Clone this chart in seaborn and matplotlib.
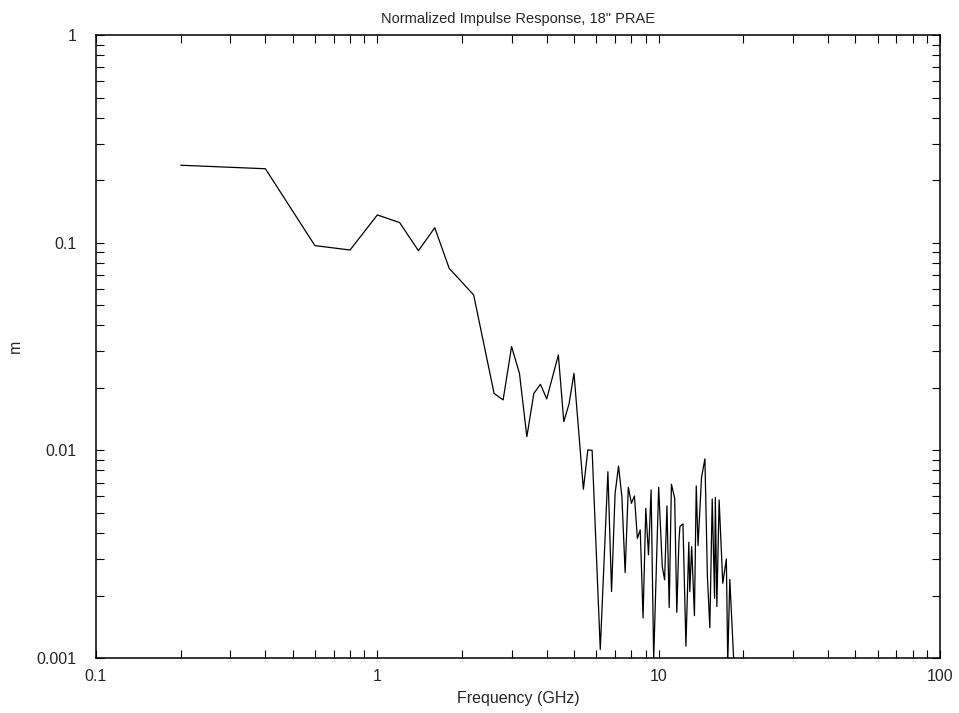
import matplotlib
matplotlib.use("Agg")
import matplotlib.pyplot as plt
import matplotlib.ticker as mticker
import seaborn as sns
import pandas as pd
import numpy as np

freq_ghz = [0.2, 0.4, 0.6, 0.8, 1.0, 1.2, 1.4, 1.6, 1.8, 2.2,
            2.6, 2.8, 3.0, 3.2, 3.4, 3.6, 3.8, 4.0, 4.4, 4.6,
            4.8, 5.0, 5.4, 5.6, 5.8, 6.2, 6.6, 6.8, 7.0, 7.2,
            7.4, 7.6, 7.8, 8.0, 8.2, 8.4, 8.6, 8.8, 9.0, 9.2,
            9.4, 9.6, 10.0, 10.3, 10.5, 10.7, 10.9, 11.1, 11.4, 11.6,
            11.8, 11.9, 12.2, 12.5, 12.8, 12.9, 13.1, 13.4, 13.6, 13.8,
            14.2, 14.6, 14.9, 15.2, 15.5, 15.8, 15.9, 16.1, 16.4, 16.9,
            17.4, 17.6, 17.9, 18.5]
response_m = [0.236, 0.227, 0.0968, 0.0922, 0.136, 0.125, 0.0915, 0.118, 0.0753, 0.056,
              0.0188, 0.0175, 0.0316, 0.0235, 0.01164, 0.0188, 0.0208, 0.0177, 0.0288, 0.01375,
              0.0167, 0.0235, 0.0065, 0.01005, 0.0100, 0.0011, 0.00789, 0.00209, 0.00621, 0.0084,
              0.00598, 0.00258, 0.00664, 0.00556, 0.00603, 0.00377, 0.00414, 0.00156, 0.00526, 0.00314,
              0.00645, 0.00098, 0.00664, 0.00275, 0.00238, 0.0054, 0.00175, 0.00687, 0.00588, 0.00166,
              0.00363, 0.0043, 0.00442, 0.00114, 0.00361, 0.00209, 0.00344, 0.0016, 0.00674, 0.00348,
              0.0074, 0.0091, 0.00248, 0.0014, 0.00583, 0.00194, 0.00594, 0.00177, 0.00577, 0.00229,
              0.003, 0.00095, 0.00239, 0.00095]

title = 'Normalized Impulse Response, 18" PRAE'
x_label = "Frequency (GHz)"
y_label = "m"

sns.set_style("white")
plt.rcParams["font.family"] = ["Liberation Sans", "DejaVu Sans"]

df = pd.DataFrame({"freq": freq_ghz, "m": response_m})

fig = plt.figure(figsize=(9.59, 7.13), dpi=100)
ax = fig.add_axes([0.1001, 0.0771, 0.8801, 0.8738])

sns.lineplot(data=df, x="freq", y="m", ax=ax, color="black", linewidth=0.9,
             estimator=None, sort=False)

ax.set_xscale("log")
ax.set_yscale("log")
ax.set_xlim(0.1, 100)
ax.set_ylim(0.001, 1)

fmt = mticker.FuncFormatter(lambda v, p: "%g" % v)
ax.xaxis.set_major_formatter(fmt)
ax.yaxis.set_major_formatter(fmt)
ax.xaxis.set_minor_locator(mticker.LogLocator(base=10, subs=np.arange(2, 10)))
ax.yaxis.set_minor_locator(mticker.LogLocator(base=10, subs=np.arange(2, 10)))
ax.xaxis.set_minor_formatter(mticker.NullFormatter())
ax.yaxis.set_minor_formatter(mticker.NullFormatter())

ax.tick_params(which="both", direction="in", top=True, right=True,
               bottom=True, left=True,
               length=6, width=0.8, color="black", labelsize=11.5)
ax.tick_params(axis="x", which="major", pad=8)
ax.tick_params(axis="y", which="major", pad=14)

for s in ax.spines.values():
    s.set_visible(True)
    s.set_color("black")
    s.set_linewidth(1.1)

ax.set_title(title, fontsize=10.5, pad=9)
ax.set_xlabel(x_label, fontsize=11.5, labelpad=5)
ax.set_ylabel(y_label, fontsize=11.5)
ax.yaxis.set_label_coords(-0.087, 0.5)

fig.savefig("out.png", dpi=100)
